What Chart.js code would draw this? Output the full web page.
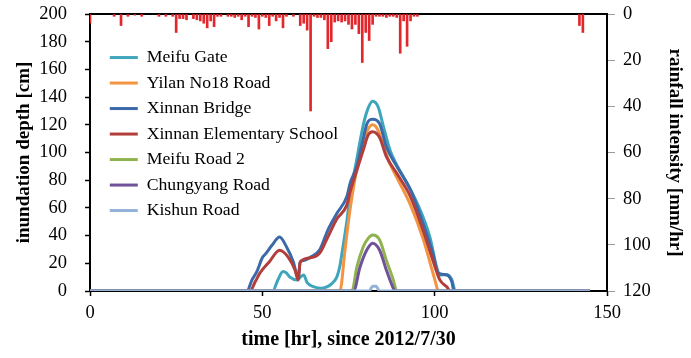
<!DOCTYPE html>
<html><head><meta charset="utf-8">
<script src="https://cdn.jsdelivr.net/npm/chart.js@4/dist/chart.umd.min.js"></script>
<style>html,body{margin:0;padding:0;background:#fff;}</style>
</head><body>
<canvas id="c" width="691" height="358"></canvas>
<script>
// ---- data ----
const seriesNames = ['Meifu Gate','Yilan No18 Road','Xinnan Bridge','Xinnan Elementary School','Meifu Road 2','Chungyang Road','Kishun Road'];
const xTicks = [0, 50, 100, 150];
const depthTicks = [0,20,40,60,80,100,120,140,160,180,200];
const rainTicks = [0,20,40,60,80,100,120];

// [time hr, depth cm]
const meifuGate = [[0,0],[53,0],[54.5,8],[56,14],[57,13],[58,10],[60,8],[61,10],[62,11.5],[63,6],[65,3],[67,2],[68.7,3],[70,5],[71.6,10],[72.5,18],[73.4,32],[74.5,50],[75.4,68],[77.4,95],[79.3,120],[80.7,132],[82,137],[83.6,133],[85,120],[87,102],[89,91],[91,82],[95,63],[98.6,39],[100.6,17],[101.5,11.5],[103.5,12],[105,8],[106,0],[145,0]];
const yilanNo18 = [[0,0],[72.5,0],[74,30],[75.4,58],[77.4,88],[79.3,108],[80.7,117],[82,120],[83.6,116],[85.6,101],[87,92],[89,82],[93,62],[96.6,38],[99.5,13],[100.6,3],[101,0],[145,0]];
const xinnanBridge = [[0,0],[45.5,0],[47,8],[48.4,14],[50,24],[51,27],[52.8,33],[55,39],[57,32],[59,21],[60.4,9.5],[61,21],[62,22],[64,24.5],[66.7,30],[69,44],[71.6,56],[74.5,68],[75.5,78],[77.4,90],[79,107],[80.4,121],[82,124],[84,121],[86,104],[89,90],[93,73],[96.6,49],[99.5,27],[101,13],[103.5,11.5],[105,6.5],[105.6,0],[145,0]];
const xinnanSchool = [[0,0],[46.4,0],[48,7],[49.3,13],[52,21],[55,29.5],[57.5,24.5],[59.5,15],[60.4,8],[61,21],[64,24],[66.7,27.5],[69,39],[71.6,52],[74.5,62],[75.5,72],[77.4,87],[79.3,102],[80.7,112.6],[82,115],[84,111],[86,97],[89,85],[93,68],[96.6,44],[99.5,22],[101.5,8],[103.5,3],[104.5,0],[145,0]];
const meifuRoad2 = [[0,0],[76,0],[77.4,17],[79.3,32],[80.7,38],[82,40.4],[84,37],[86,22],[88,8],[89,0],[145,0]];
const chungyang = [[0,0],[76.5,0],[78.3,17],[80.3,29.6],[82,34.5],[84,29.6],[86,15],[87.5,5],[88.5,0],[145,0]];
const kishun = [[0,0],[81,0],[82,3.5],[83,3.5],[84,0],[145,0]];

// hourly rainfall [mm/hr] (hours with rain)
const rainHours = [0,7,9,11,13,15,20,22,24,25,26,27,28,30,31,32,33,34,35,36,37,38,40,41,42,43,44,45,46,47,48,49,50,51,52,53,54,55,56,57,59,61,62,63,64,65,66,67,68,69,70,71,72,73,74,75,76,77,78,79,80,81,82,83,84,85,86,87,88,89,90,91,92,93,94,95,142,143];
const rainMm    = [4,1,5,1,0.5,1,1,1,1,8,2,2,2.5,2,2.5,3,4,6,3,5.5,1,1,1,1,1.5,1,2.5,1,5.5,1,1.5,6.5,1,1.5,5,1,3,1.5,6,1,1,5,4,7,42,1,1.5,1.5,2.5,15,12,3.5,3,3.5,3,4.5,6.5,4.5,8.5,21,8,11.5,4.5,1,1,1,1.5,1,1,1.5,17,3,14,3,1,1,5,8];

const colors = ['#3fa5bc','#f39440','#3c69a8','#b23e3b','#8fb34f','#71519a','#92b2d8'];
const depthSeries = [meifuGate, yilanNo18, xinnanBridge, xinnanSchool, meifuRoad2, chungyang, kishun];

const serif = 'Liberation Serif, Times New Roman, serif';
const tickFont = {family: serif, size: 18.5};

const datasets = depthSeries.map((s, i) => ({
  type: 'line',
  label: seriesNames[i],
  data: s.map(p => ({x: p[0], y: p[1]})),
  borderColor: colors[i],
  backgroundColor: colors[i],
  borderWidth: 3,
  pointRadius: 0,
  cubicInterpolationMode: 'monotone',
  fill: false,
  xAxisID: 'x', yAxisID: 'y',
  order: 6 - i
}));
datasets.push({
  type: 'bar',
  label: 'rainfall',
  data: rainHours.map((h, i) => ({x: h, y: rainMm[i]})),
  backgroundColor: '#e3262b',
  borderWidth: 0,
  barThickness: 2,
  grouped: false,
  xAxisID: 'x', yAxisID: 'y2',
  order: 20
});

const legendShift = {
  id: 'legendShift',
  afterLayout(chart) {
    if (chart.legend) { chart.legend.left = chart.chartArea.left + 12; }
  }
};

function fixV(w) {
  return (s) => { s.width = w; s.paddingTop = 0; s.paddingBottom = 0; };
}
function fixH(h) {
  return (s) => { s.height = h; s.paddingLeft = 0; s.paddingRight = 0; };
}

new Chart(document.getElementById('c'), {
  type: 'line',
  data: {datasets},
  plugins: [legendShift],
  options: {
    responsive: false,
    animation: false,
    layout: {padding: 0},
    plugins: {
      tooltip: {enabled: false},
      legend: {
        position: 'chartArea',
        align: 'start',
        title: {display: true, text: '', font: {size: 12}, padding: {top: 26.5, bottom: 0}},
        labels: {
          usePointStyle: true,
          pointStyle: 'line',
          pointStyleWidth: 28,
          padding: 7.8,
          color: '#000',
          font: {family: serif, size: 17.7},
          filter: (item) => item.datasetIndex < 7,
          sort: (a, b) => a.datasetIndex - b.datasetIndex
        }
      }
    },
    scales: {
      x: {
        type: 'linear', position: 'bottom', min: 0, max: 150, offset: false,
        afterBuildTicks: (s) => { s.ticks = xTicks.map(v => ({value: v})); },
        ticks: {font: tickFont, color: '#000', padding: 6, maxRotation: 0},
        grid: {offset: false, drawOnChartArea: false, drawTicks: true, tickLength: 5, tickColor: '#000', tickWidth: 1.5},
        border: {color: '#000', width: 2},
        title: {display: true, text: 'time [hr], since 2012/7/30', font: {family: serif, size: 20, weight: 'bold'}, color: '#000', padding: {top: 0, bottom: 6}},
        afterFit: fixH(67)
      },
      xTop: {
        type: 'linear', position: 'top', min: 0, max: 150,
        ticks: {display: false},
        grid: {display: true, drawOnChartArea: false, drawTicks: false},
        border: {color: '#000', width: 2},
        afterFit: fixH(14)
      },
      y: {
        type: 'linear', position: 'left', min: 0, max: 200,
        afterBuildTicks: (s) => { s.ticks = depthTicks.map(v => ({value: v})); },
        ticks: {font: tickFont, color: '#000', padding: 18},
        grid: {drawOnChartArea: false, tickLength: 5, tickColor: '#000', tickWidth: 1.5},
        border: {color: '#000', width: 2},
        title: {display: true, text: 'inundation depth [cm]', font: {family: serif, size: 19, weight: 'bold'}, color: '#000', padding: {top: 12.6, bottom: 0}},
        afterFit: fixV(90)
      },
      y2: {
        type: 'linear', position: 'right', min: 0, max: 120, reverse: true,
        afterBuildTicks: (s) => { s.ticks = rainTicks.map(v => ({value: v})); },
        ticks: {font: tickFont, color: '#000', padding: 8},
        grid: {drawOnChartArea: false, tickLength: 8, tickColor: '#9a9a9a', tickWidth: 1},
        border: {color: '#000', width: 2},
        title: {display: true, text: 'rainfall intensity [mm/hr]', font: {family: serif, size: 19, weight: 'bold'}, color: '#000', padding: {top: 4.6, bottom: 0}},
        afterFit: fixV(84)
      }
    }
  }
});
</script>
</body></html>
